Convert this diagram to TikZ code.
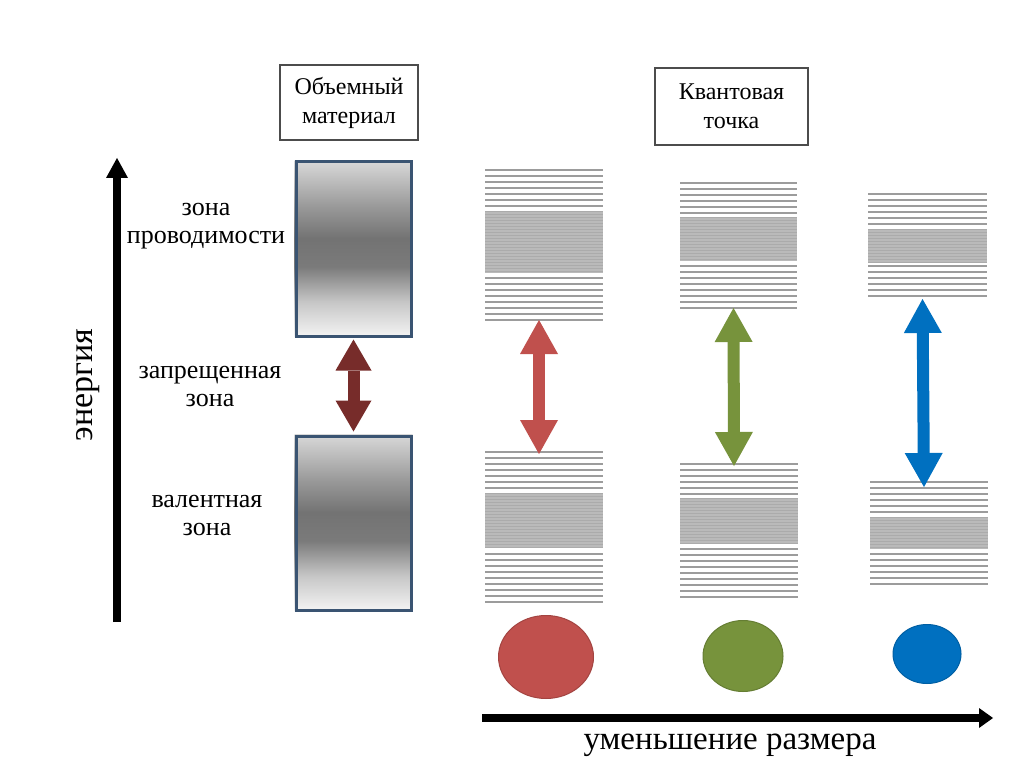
\documentclass[tikz,border=0pt]{standalone}
\usepackage{fontspec}
\setmainfont{Liberation Serif}
\usetikzlibrary{arrows.meta, shapes.geometric}

\definecolor{qdred}{HTML}{C0504D}
\definecolor{qdgreen}{HTML}{77933C}
\definecolor{qdblue}{HTML}{0070C0}
\definecolor{gapred}{HTML}{772C2A}
\definecolor{boxedge}{HTML}{3A5472}
\definecolor{levelgray}{HTML}{9C9C9C}

% soft grey band, darkest a little below the middle (path fills 25bp..75bp)
\pgfdeclareverticalshading{bulkshade}{100bp}{%
  color(0bp)=(black!4); color(25bp)=(black!4); color(35bp)=(black!22);
  color(45bp)=(black!52); color(53bp)=(black!55); color(62bp)=(black!40);
  color(75bp)=(black!15); color(100bp)=(black!15)}

% band of discrete levels: name, x1, x2, first line, lines above,
% block top, block bottom, first line below, lines below
\newcommand{\qdband}[9]{%
  \foreach \i in {1,...,#5}
    \draw[level] (#2,{#4+6*(\i-1)}) -- (#3,{#4+6*(\i-1)});
  \fill[levelgray!70] (#2,#6) rectangle (#3,#7);
  \pgfmathtruncatemacro\ndense{(#7-#6)/3}
  \foreach \i in {0,...,\ndense}
    \draw[denselevel] (#2,{#6+3*\i}) -- (#3,{#6+3*\i});
  \foreach \i in {1,...,#9}
    \draw[level] (#2,{#8+6*(\i-1)}) -- (#3,{#8+6*(\i-1)});
  \coordinate (#1-top) at ({(#2+#3)/2-5},#4);
  \coordinate (#1-bot) at ({(#2+#3)/2-5},{#8+6*(#9-1)});
}

\begin{document}
\begin{tikzpicture}[
    x=1pt, y=-1pt,
    lbl/.style={align=center, font=\fontsize{26}{28}\selectfont},
    titlebox/.style={draw=black!70, line width=1.2pt, align=center,
                     font=\fontsize{24}{29}\selectfont, inner sep=0pt},
    bulkband/.style={draw=boxedge, line width=3pt, minimum width=115pt,
                     minimum height=174pt, inner sep=0pt},
    bulkfill/.style={shading=bulkshade},
    level/.style={draw=levelgray, line width=1.6pt},
    denselevel/.style={draw=levelgray!85, line width=0.8pt},
    axis/.style={line width=8pt, -{Triangle[width=22pt,length=20pt,line width=0pt]}},
    gaparrow/.style={line width=12pt,
        {Triangle[width=38pt,length=34pt,line width=0pt]}-{Triangle[width=38pt,length=34pt,line width=0pt]}},
    dot/.style={ellipse, inner sep=0pt, line width=1pt},
]

% page frame
\fill[white] (0,0) rectangle (1024,767);
\useasboundingbox (0,0) rectangle (1024,767);

% titles
\node[titlebox, minimum width=138pt, minimum height=75pt] at (349,102.5) (bulk) {Объемный\\материал};
\node[titlebox, minimum width=153pt, minimum height=77pt] at (731.5,106.5) (qd) {Квантовая\\точка};

% energy axis
\coordinate (e0) at (117,622);
\coordinate (e1) at (117,158);
\draw[axis] (e0) -- (e1);
\node[rotate=90, font=\fontsize{34}{38}\selectfont] at (88,385) (energy) {энергия};

% labels on the left
\node[lbl] at (206,226) (cblbl) {зона\\проводимости};
\node[lbl] at (210,386) (gaplbl) {запрещенная\\зона};
\node[lbl] at (207,515) (vblbl) {валентная\\зона};

% bulk material
\node[bulkband] at (353.5,249) (cbulk) {};
\node[bulkband] at (353.5,523) (vbulk) {};
\shade[bulkfill] (cbulk.south west) rectangle (cbulk.north east);
\shade[bulkfill] (vbulk.south west) rectangle (vbulk.north east);
\node[bulkband] at (353.5,249) {};
\node[bulkband] at (353.5,523) {};
\draw[gaparrow, gapred, {Triangle[width=36pt,length=31pt,line width=0pt]}-{Triangle[width=36pt,length=31pt,line width=0pt]}]
    ([yshift=-2pt]cbulk.south) -- ([yshift=3pt]vbulk.north);

% quantum dots: levels
\qdband{cb1}{485}{603}{170}{7}{211}{273}{278}{8}
\qdband{vb1}{485}{603}{452}{7}{493}{548}{554}{9}
\qdband{cb2}{680}{797}{183}{6}{217}{261}{266}{8}
\qdband{vb2}{680}{798}{464}{6}{498}{543}{549}{9}
\qdband{cb3}{868}{987}{194}{6}{229}{262}{266}{6}
\qdband{vb3}{870}{988}{482}{6}{517}{549}{554}{6}

% gaps
\draw[gaparrow, qdred]   (cb1-bot) -- ([yshift=-2pt]vb1-top);
\draw[gaparrow, qdgreen] (cb2-bot) -- ([yshift=-2pt]vb2-top);
\draw[gaparrow, qdblue]  ([yshift=-3pt]cb3-bot) -- ([yshift=-5pt]vb3-top);

% dots
\node[dot, fill=qdred, draw=qdred!85!black, minimum width=95pt, minimum height=83pt] at (546,657) (dot1) {};
\node[dot, fill=qdgreen, draw=qdgreen!85!black, minimum width=80pt, minimum height=71pt] at (743,656) (dot2) {};
\node[dot, fill=qdblue, draw=qdblue!85!black, minimum width=68pt, minimum height=59pt] at (927,654) (dot3) {};

% size axis
\coordinate (s0) at (482,718);
\coordinate (s1) at (993,718);
\draw[axis, -{Triangle[width=20pt,length=14pt,line width=0pt]}] (s0) -- (s1);
\node[font=\fontsize{33}{38}\selectfont] at (730,745) (size) {уменьшение размера};

\end{tikzpicture}
\end{document}
